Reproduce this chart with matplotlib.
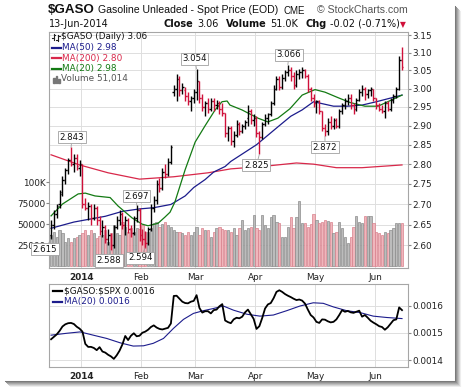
import matplotlib
matplotlib.use("Agg")
import matplotlib.pyplot as plt
import numpy as np
from matplotlib.lines import Line2D
from matplotlib.patches import Rectangle
from matplotlib.ticker import FixedLocator, NullLocator, FuncFormatter

W, H = 464, 387

# ---- daily OHLC, Dec 16 2013 .. Jun 13 2014 ----
opens = [2.625, 2.650, 2.675, 2.700, 2.730, 2.760, 2.785, 2.810, 2.800, 2.815,
         2.790, 2.800, 2.700, 2.690, 2.695, 2.665, 2.690, 2.660, 2.635, 2.645,
         2.615, 2.625, 2.600, 2.645, 2.660, 2.675, 2.650, 2.660, 2.640, 2.630,
         2.665, 2.685, 2.625, 2.615, 2.605, 2.640, 2.690, 2.710, 2.750, 2.740,
         2.780, 2.775, 2.805, 2.990, 3.000, 3.025, 2.995, 2.995, 2.980, 2.965,
         2.975, 2.990, 3.020, 2.975, 2.950, 2.960, 2.945, 2.965, 2.955, 2.960,
         2.945, 2.935, 2.880, 2.895, 2.860, 2.875, 2.905, 2.885, 2.900, 2.920,
         2.940, 2.915, 2.920, 2.880, 2.870, 2.905, 2.920, 2.930, 2.960, 3.000,
         3.025, 3.005, 3.030, 3.045, 3.050, 3.035, 3.010, 3.040, 3.045, 3.050,
         3.035, 3.000, 2.975, 2.960, 2.965, 2.940, 2.895, 2.885, 2.910, 2.900,
         2.915, 2.900, 2.940, 2.955, 2.965, 2.975, 2.955, 2.945, 2.970, 2.990,
         3.000, 2.985, 2.995, 3.000, 2.975, 2.955, 2.945, 2.940, 2.960, 2.945,
         2.970, 2.980, 3.000, 3.080]
highs = [2.660, 2.685, 2.700, 2.735, 2.770, 2.790, 2.815, 2.843, 2.825, 2.825,
         2.810, 2.800, 2.715, 2.705, 2.700, 2.700, 2.695, 2.670, 2.660, 2.650,
         2.640, 2.630, 2.650, 2.670, 2.685, 2.680, 2.670, 2.665, 2.650, 2.670,
         2.697, 2.690, 2.640, 2.635, 2.645, 2.700, 2.720, 2.760, 2.765, 2.790,
         2.800, 2.815, 2.850, 3.010, 3.040, 3.035, 3.015, 3.005, 2.990, 2.980,
         3.000, 3.054, 3.020, 2.985, 2.965, 2.975, 2.975, 2.975, 2.970, 2.965,
         2.960, 2.935, 2.900, 2.900, 2.885, 2.915, 2.910, 2.905, 2.915, 2.955,
         2.945, 2.930, 2.925, 2.885, 2.910, 2.930, 2.935, 2.965, 3.010, 3.035,
         3.035, 3.040, 3.050, 3.066, 3.060, 3.045, 3.050, 3.055, 3.060, 3.055,
         3.040, 3.005, 2.985, 2.970, 2.970, 2.940, 2.905, 2.920, 2.925, 2.920,
         2.920, 2.945, 2.960, 2.975, 2.985, 2.985, 2.960, 2.975, 3.000, 3.010,
         3.005, 3.000, 3.005, 3.000, 2.975, 2.960, 2.955, 2.965, 2.965, 2.975,
         2.985, 3.005, 3.090, 3.115]
lows = [2.615, 2.640, 2.665, 2.690, 2.720, 2.750, 2.775, 2.795, 2.780, 2.785,
        2.770, 2.690, 2.685, 2.660, 2.650, 2.660, 2.650, 2.625, 2.620, 2.605,
        2.600, 2.588, 2.595, 2.640, 2.650, 2.640, 2.625, 2.630, 2.620, 2.625,
        2.655, 2.610, 2.600, 2.594, 2.600, 2.635, 2.680, 2.700, 2.730, 2.735,
        2.765, 2.770, 2.800, 2.980, 2.965, 2.980, 2.985, 2.965, 2.955, 2.940,
        2.960, 2.970, 2.960, 2.940, 2.925, 2.935, 2.940, 2.940, 2.945, 2.930,
        2.925, 2.870, 2.860, 2.850, 2.845, 2.870, 2.875, 2.880, 2.890, 2.900,
        2.905, 2.900, 2.870, 2.825, 2.865, 2.900, 2.905, 2.925, 2.955, 2.995,
        2.995, 3.000, 3.020, 3.035, 3.020, 3.000, 3.005, 3.025, 3.030, 3.030,
        2.990, 2.965, 2.950, 2.935, 2.930, 2.885, 2.872, 2.875, 2.890, 2.890,
        2.895, 2.895, 2.930, 2.945, 2.955, 2.945, 2.930, 2.940, 2.965, 2.980,
        2.970, 2.975, 2.980, 2.965, 2.945, 2.940, 2.935, 2.920, 2.940, 2.940,
        2.960, 2.975, 2.995, 3.050]
closes = [2.650, 2.675, 2.695, 2.725, 2.760, 2.785, 2.810, 2.800, 2.815, 2.795,
          2.800, 2.700, 2.690, 2.695, 2.665, 2.690, 2.660, 2.635, 2.645, 2.615,
          2.625, 2.600, 2.645, 2.660, 2.675, 2.650, 2.660, 2.640, 2.630, 2.665,
          2.685, 2.625, 2.615, 2.605, 2.640, 2.690, 2.710, 2.750, 2.740, 2.780,
          2.775, 2.805, 2.845, 3.000, 3.025, 2.995, 3.005, 2.980, 2.965, 2.975,
          2.990, 3.020, 2.975, 2.950, 2.960, 2.945, 2.965, 2.955, 2.960, 2.945,
          2.935, 2.880, 2.895, 2.860, 2.875, 2.905, 2.885, 2.900, 2.910, 2.940,
          2.915, 2.920, 2.880, 2.870, 2.905, 2.920, 2.930, 2.960, 3.000, 3.025,
          3.005, 3.030, 3.045, 3.050, 3.035, 3.010, 3.040, 3.045, 3.050, 3.035,
          3.000, 2.975, 2.960, 2.965, 2.940, 2.895, 2.885, 2.910, 2.900, 2.915,
          2.900, 2.940, 2.955, 2.965, 2.975, 2.955, 2.945, 2.970, 2.990, 3.000,
          2.985, 2.995, 3.000, 2.975, 2.955, 2.945, 2.940, 2.960, 2.945, 2.970,
          2.980, 3.000, 3.080, 3.060]
volume_k = [37, 41, 35, 43, 40, 29, 33, 29, 33, 35,
            37, 40, 43, 37, 43, 39, 33, 36, 37, 43,
            29, 39, 49, 40, 37, 53, 47, 41, 45, 41,
            45, 44, 49, 41, 41, 45, 51, 53, 47, 50,
            53, 49, 47, 43, 41, 41, 39, 37, 41, 37,
            41, 47, 37, 45, 43, 43, 35, 41, 45, 47,
            44, 43, 43, 41, 45, 37, 45, 55, 43, 45,
            47, 61, 45, 43, 61, 49, 45, 59, 61, 53,
            51, 35, 35, 47, 59, 45, 59, 78, 51, 51,
            47, 50, 62, 55, 51, 53, 55, 54, 53, 39,
            41, 53, 45, 35, 27, 35, 47, 60, 53, 51,
            60, 60, 60, 51, 41, 39, 37, 41, 40, 43,
            45, 51, 51, 51.014]

# moving averages (bar index, value)
ma20_idx = [0, 4, 9.5, 12, 15.4, 20.7, 23.5, 28.4, 31.9, 34, 37.5, 39.9, 41.7, 43.4,
            47, 50.5, 54, 57.5, 59.9, 61.7, 62.7, 66.9, 72.5, 76, 79.5, 83.7, 88,
            92.5, 96, 100.6, 104.8, 110, 114.6, 118, 123]
ma20_val = [2.671, 2.700, 2.725, 2.727, 2.720, 2.716, 2.695, 2.666, 2.651, 2.647, 2.653,
            2.668, 2.680, 2.705, 2.786, 2.857, 2.900, 2.942, 2.964, 2.966, 2.955, 2.942,
            2.920, 2.910, 2.920, 2.945, 2.982, 2.997, 2.990, 2.975, 2.962, 2.952, 2.952,
            2.964, 2.982]
ma50_idx = [0, 8, 19, 25, 31, 36, 42, 47, 50, 54, 57, 61, 63, 72, 80, 84, 88, 92,
            99, 104, 109, 114, 123]
ma50_val = [2.641, 2.656, 2.670, 2.682, 2.688, 2.691, 2.699, 2.720, 2.741, 2.761, 2.780,
            2.794, 2.807, 2.850, 2.900, 2.925, 2.942, 2.964, 2.952, 2.952, 2.955, 2.964,
            2.982]
ma200_idx = [0, 10, 20, 31, 43, 55, 63, 74, 86, 92, 100, 109, 123]
ma200_val = [2.824, 2.798, 2.778, 2.762, 2.768, 2.778, 2.788, 2.794, 2.803, 2.800,
             2.791, 2.791, 2.798]

# $GASO:$SPX ratio and its MA(20)
ratio = [0.001477, 0.001486, 0.001495, 0.001508, 0.001524, 0.001532, 0.001536, 0.001537, 0.001533, 0.001523,
         0.001516, 0.001505, 0.001460, 0.001449, 0.001449, 0.001445, 0.001437, 0.001448, 0.001432, 0.001428,
         0.001420, 0.001414, 0.001405, 0.001418, 0.001435, 0.001458, 0.001489, 0.001474, 0.001490, 0.001499,
         0.001488, 0.001490, 0.001501, 0.001505, 0.001512, 0.001522, 0.001528, 0.001520, 0.001515, 0.001513,
         0.001516, 0.001519, 0.001535, 0.001636, 0.001637, 0.001626, 0.001615, 0.001610, 0.001609, 0.001615,
         0.001618, 0.001639, 0.001592, 0.001575, 0.001580, 0.001580, 0.001572, 0.001584, 0.001586, 0.001598,
         0.001606, 0.001546, 0.001540, 0.001536, 0.001550, 0.001556, 0.001554, 0.001560, 0.001576, 0.001586,
         0.001569, 0.001552, 0.001515, 0.001525, 0.001555, 0.001590, 0.001605, 0.001610, 0.001628, 0.001651,
         0.001657, 0.001651, 0.001643, 0.001637, 0.001632, 0.001626, 0.001621, 0.001623, 0.001619, 0.001608,
         0.001586, 0.001566, 0.001557, 0.001541, 0.001537, 0.001550, 0.001549, 0.001543, 0.001539, 0.001541,
         0.001550, 0.001566, 0.001584, 0.001578, 0.001581, 0.001576, 0.001574, 0.001578, 0.001582, 0.001560,
         0.001566, 0.001556, 0.001545, 0.001538, 0.001532, 0.001525, 0.001522, 0.001512, 0.001521, 0.001534,
         0.001547, 0.001550, 0.001594, 0.001584]
rma_idx = [0, 5.5, 10.2, 14.8, 19.5, 24.2, 28.8, 32.4, 35.8, 39.4, 42.9, 46.4, 49.9,
           53.4, 56.9, 60.4, 63.9, 68.6, 73.2, 77.9, 82.6, 87.2, 91.9, 95.4, 98.9,
           103.6, 108.3, 112.9, 117.6, 123]
rma_val = [0.001492, 0.001499, 0.001504, 0.001492, 0.001480, 0.001464, 0.001452, 0.001453,
           0.001462, 0.001480, 0.001517, 0.001550, 0.001572, 0.001582, 0.001590, 0.001599,
           0.001584, 0.001569, 0.001562, 0.001566, 0.001582, 0.001599, 0.001611, 0.001609,
           0.001596, 0.001582, 0.001575, 0.001562, 0.001557, 0.001553]

month_idx = [11, 32, 51, 72, 93, 114]
month_labels = ["2014", "Feb", "Mar", "Apr", "May", "Jun"]
price_ticks = [2.60, 2.65, 2.70, 2.75, 2.80, 2.85, 2.90, 2.95, 3.00, 3.05, 3.10, 3.15]
vol_ticks = [25000, 50000, 75000, 100000]
vol_labels = ["25000", "50000", "75000", "100K"]
ratio_ticks = [0.0014, 0.0015, 0.0016]

# (bar index, which end, label offset in px)
callouts = [(0, "low", -6, -10), (7, "high", 1, 10), (21, "low", -2, -10),
            (30, "high", 0, 9), (33, "low", -5, -10), (51, "high", -2, 10),
            (73, "low", -3, -11), (83, "high", 1, 10), (96, "low", 0, -11)]

RED = "#d0103a"
NAVY = "#1c1c8c"
GREEN = "#137a13"
MA200C = "#d8284a"
GRID = "#dedede"
EDGE = "#a6a6a6"
FONT = "DejaVu Sans"

n = len(closes)
x = np.arange(n)
up = [closes[0] >= opens[0]] + [closes[i] >= closes[i - 1] for i in range(1, n)]
bar_cols = ["black" if u else RED for u in up]
vol_face = ["#bcbcbc" if u else "#f0b6bc" for u in up]
vol_edge = ["#8c8c8c" if u else "#d8808c" for u in up]
volume = [v * 1000 for v in volume_k]
month_pos = [m - 0.4 for m in month_idx]

plt.rcParams["font.family"] = FONT

fig = plt.figure(figsize=(W / 100, H / 100), dpi=100)
fig.patch.set_facecolor("white")


def fx(px):
    return px / W


def fy(py):
    return 1 - py / H


L, R = 49.5, 408
main_rect = [fx(L), fy(268), fx(R) - fx(L), fy(31.7) - fy(268)]
low_rect = [fx(L), fy(367.3), fx(R) - fx(L), fy(284) - fy(367.3)]
XLIM = (-0.55, 125.1)
PLIM = (2.547, 3.1595)
TICKFS = 6.4

# ---- grid / price scale axes ----
axg = fig.add_axes(main_rect, label="grid", zorder=1)
axg.set_yscale("log")
axg.set_xlim(XLIM)
axg.set_ylim(PLIM)
axg.yaxis.set_major_locator(FixedLocator(price_ticks))
axg.yaxis.set_minor_locator(NullLocator())
axg.yaxis.set_major_formatter(FuncFormatter(lambda v, p: f"{v:.2f}"))
axg.yaxis.tick_right()
axg.set_xticks(month_pos)
axg.set_xticklabels(month_labels)
axg.xaxis.get_ticklabels()[0].set_fontweight("bold")
axg.grid(True, color=GRID, lw=0.7)
axg.tick_params(axis="x", length=0, pad=3.5, labelsize=TICKFS, colors="#222")
axg.tick_params(axis="y", length=2, pad=1, labelsize=TICKFS, color="#888", labelcolor="#222")
for s in axg.spines.values():
    s.set_color(EDGE)
    s.set_linewidth(0.8)

# ---- volume ----
axv = fig.add_axes(main_rect, label="vol", zorder=2)
axv.patch.set_visible(False)
axv.set_xlim(XLIM)
axv.set_ylim(-2350, 279800)
axv.bar(x, volume, width=0.8, color=vol_face, edgecolor=vol_edge, linewidth=0.5)
axv.set_xticks([])
axv.set_yticks(vol_ticks)
axv.set_yticklabels(vol_labels)
axv.tick_params(axis="y", length=2, pad=1, labelsize=TICKFS, color="#888", labelcolor="#222")
for s in axv.spines.values():
    s.set_visible(False)

# ---- price bars + MAs ----
axp = fig.add_axes(main_rect, label="price", zorder=3)
axp.patch.set_visible(False)
axp.set_yscale("log")
axp.set_xlim(XLIM)
axp.set_ylim(PLIM)
axp.axis("off")
axp.plot(ma200_idx, ma200_val, color=MA200C, lw=0.9)
axp.plot(ma50_idx, ma50_val, color=NAVY, lw=0.9)
axp.plot(ma20_idx, ma20_val, color=GREEN, lw=0.9)
axp.vlines(x, lows, highs, colors=bar_cols, lw=1.0)
axp.hlines(opens, x - 0.5, x, colors=bar_cols, lw=1.0)
axp.hlines(closes, x, x + 0.5, colors=bar_cols, lw=1.0)

for i, kind, dx, dy in callouts:
    val = highs[i] if kind == "high" else lows[i]
    axp.annotate(
        f"{val:.3f}",
        xy=(i, val),
        xytext=(dx, dy),
        textcoords="offset pixels",
        ha="center",
        va="center",
        fontsize=6.2,
        color="#111",
        bbox=dict(boxstyle="square,pad=0.18", fc="white", ec="#a0a0a0", lw=0.6),
        arrowprops=dict(arrowstyle="-", color="#a0a0a0", lw=0.6, shrinkA=0, shrinkB=0),
        annotation_clip=False,
        zorder=5,
    )

# ---- lower panel: ratio ----
axr = fig.add_axes(low_rect, label="ratio")
axr.set_xlim(XLIM)
axr.set_ylim(0.001374, 0.00168)
axr.plot(rma_idx, rma_val, color=NAVY, lw=0.8)
axr.plot(x, ratio, color="black", lw=1.3)
axr.yaxis.tick_right()
axr.set_yticks(ratio_ticks)
axr.yaxis.set_major_formatter(FuncFormatter(lambda v, p: f"{v:.4f}"))
axr.set_xticks(month_pos)
axr.set_xticklabels(month_labels)
axr.xaxis.get_ticklabels()[0].set_fontweight("bold")
axr.grid(True, color=GRID, lw=0.7)
axr.tick_params(axis="x", length=0, pad=3.5, labelsize=TICKFS, colors="#222")
axr.tick_params(axis="y", length=2, pad=1, labelsize=TICKFS, color="#888", labelcolor="#222")
for s in axr.spines.values():
    s.set_color(EDGE)
    s.set_linewidth(0.8)


# ---- legends (pixel positions) ----
def ftext(px, py, s, **kw):
    kw.setdefault("fontsize", 6.4)
    kw.setdefault("va", "center")
    fig.text(fx(px), fy(py), s, **kw)


def fline(x0, x1, py, color, lw=1.6):
    fig.add_artist(Line2D([fx(x0), fx(x1)], [fy(py), fy(py)], color=color, lw=lw,
                          transform=fig.transFigure, zorder=10))


# OHLC glyph
for bx, top, bot, o, c in [(54, 33.5, 40, 38, 35), (58, 34.5, 41, 40, 36)]:
    fig.add_artist(Line2D([fx(bx), fx(bx)], [fy(top), fy(bot)], color="#222", lw=0.8,
                          transform=fig.transFigure, zorder=10))
    fig.add_artist(Line2D([fx(bx - 1.5), fx(bx)], [fy(o), fy(o)], color="#222", lw=0.8,
                          transform=fig.transFigure, zorder=10))
    fig.add_artist(Line2D([fx(bx), fx(bx + 1.5)], [fy(c), fy(c)], color="#222", lw=0.8,
                          transform=fig.transFigure, zorder=10))
ftext(61, 36.8, "\\$GASO (Daily) 3.06", color="#111", zorder=10)
fline(52.5, 61.5, 47.7, NAVY)
ftext(62.3, 47.7, "MA(50) 2.98", color=NAVY, zorder=10)
fline(52.5, 61.5, 58.3, MA200C)
ftext(62.3, 58.3, "MA(200) 2.80", color=MA200C, zorder=10)
fline(52.5, 61.5, 68.5, GREEN)
ftext(62.3, 68.5, "MA(20) 2.98", color=GREEN, zorder=10)
for bx, bh in [(53.2, 5), (55.6, 7), (58.0, 4)]:
    fig.add_artist(Rectangle((fx(bx), fy(82.5)), fx(1.8), bh / H, color="#777",
                             transform=fig.transFigure, zorder=10))
ftext(61.5, 79, "Volume 51,014", color="#555", zorder=10)

fline(53, 62, 291, "black")
ftext(64, 291, "\\$GASO:\\$SPX 0.0016", color="#111", zorder=10)
fline(53, 62, 301.7, NAVY)
ftext(64, 301.7, "MA(20) 0.0016", color=NAVY, zorder=10)

# ---- header ----
ftext(48, 10, "\\$GASO", fontsize=9.6, fontweight="bold", family="Liberation Sans", color="#111")
ftext(97.5, 10.3, "Gasoline Unleaded - Spot Price (EOD)", fontsize=7.6,
      family="Liberation Sans", color="#111")
ftext(284, 10.5, "CME", fontsize=7.0, family="Liberation Sans", color="#111")
ftext(408, 10.3, "\u00a9 StockCharts.com", fontsize=7.6, family="Liberation Sans",
      color="#555", ha="right")
ftext(49, 24, "13-Jun-2014", fontsize=7.0, color="#111")
ftext(164, 24, "Close", fontsize=7.0, fontweight="bold", color="#111")
ftext(197, 24, "3.06", fontsize=7.0, color="#111")
ftext(226, 24, "Volume", fontsize=7.0, fontweight="bold", color="#111")
ftext(270, 24, "51.0K", fontsize=7.0, color="#111")
ftext(306, 24, "Chg", fontsize=7.0, fontweight="bold", color="#111")
ftext(330, 24, "-0.02 (-0.71%)", fontsize=7.0, color="#111")
ftext(400, 24.5, "\u25bc", fontsize=5.5, color=RED)

# ---- drop shadow at right / bottom ----
for k in range(6):
    shade = str(0.48 + k * 0.09)
    fig.add_artist(Line2D([fx(455.5 + k), fx(455.5 + k)], [fy(6 + k), fy(380.5 + k)],
                          color=shade, lw=0.75, transform=fig.transFigure, zorder=0))
    fig.add_artist(Line2D([fx(5 + k), fx(455.5 + k)], [fy(380.5 + k), fy(380.5 + k)],
                          color=shade, lw=0.75, transform=fig.transFigure, zorder=0))

fig.savefig("out.png", dpi=100, facecolor="white")
plt.close(fig)
